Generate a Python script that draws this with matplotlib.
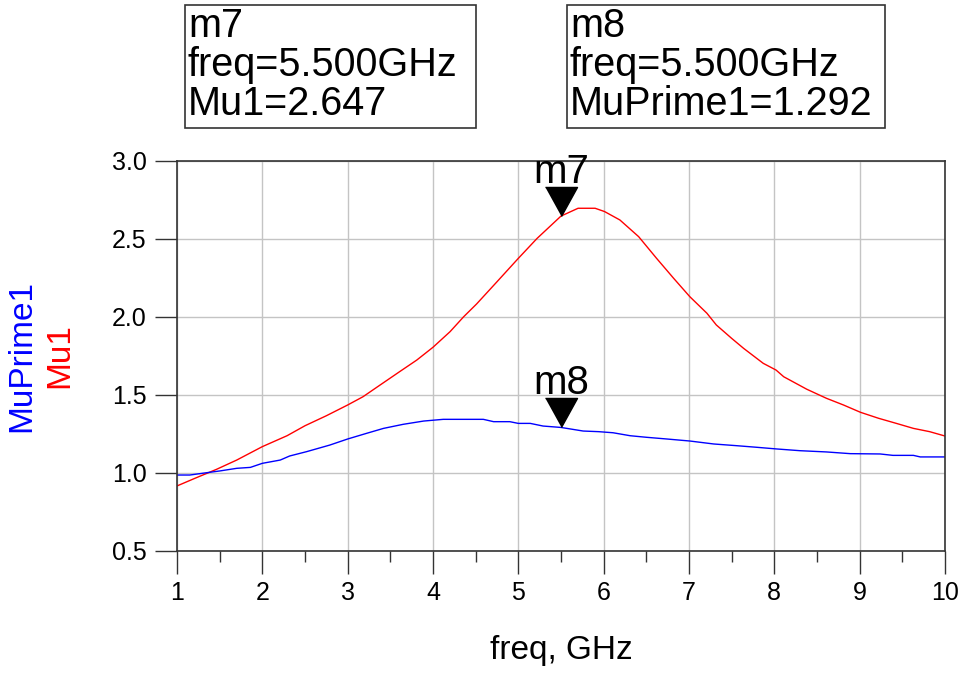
import numpy as np
import matplotlib.pyplot as plt
from matplotlib.patches import Rectangle

plt.rcParams['font.family'] = ['Liberation Sans', 'DejaVu Sans']

# Mu1 (red)
freq_mu = [1.0, 1.21, 1.465, 1.70, 2.0, 2.29, 2.5, 2.75, 3.0, 3.18, 3.38, 3.61, 3.81, 4.0,
           4.2, 4.36, 4.51, 4.75, 5.0, 5.22, 5.5, 5.7, 5.9, 6.01, 6.19, 6.41, 6.62, 6.82,
           7.01, 7.21, 7.32, 7.5, 7.64, 7.87, 8.02, 8.11, 8.38, 8.61, 8.81, 9.01, 9.22,
           9.43, 9.63, 9.82, 10.0]
mu1 = [0.917, 0.966, 1.024, 1.083, 1.169, 1.239, 1.303, 1.367, 1.436, 1.489, 1.564, 1.65,
       1.724, 1.806, 1.906, 2.002, 2.083, 2.226, 2.376, 2.504, 2.647, 2.697, 2.697, 2.676,
       2.622, 2.515, 2.376, 2.248, 2.130, 2.024, 1.949, 1.863, 1.799, 1.703, 1.660, 1.617,
       1.537, 1.479, 1.436, 1.389, 1.351, 1.318, 1.286, 1.265, 1.237]

# MuPrime1 (blue)
freq_mup = [1.0, 1.15, 1.35, 1.5, 1.7, 1.86, 2.0, 2.21, 2.32, 2.52, 2.79, 3.0, 3.22, 3.42,
            3.65, 3.89, 4.12, 4.59, 4.71, 4.9, 5.0, 5.14, 5.29, 5.5, 5.76, 5.94, 6.11, 6.31,
            6.5, 6.74, 7.01, 7.29, 7.56, 7.79, 8.03, 8.3, 8.61, 8.89, 9.24, 9.39, 9.63,
            9.71, 10.0]
muprime1 = [0.987, 0.987, 1.002, 1.013, 1.030, 1.036, 1.062, 1.083, 1.109, 1.137, 1.179,
            1.218, 1.254, 1.286, 1.312, 1.333, 1.344, 1.344, 1.329, 1.329, 1.318, 1.318,
            1.301, 1.292, 1.269, 1.265, 1.258, 1.239, 1.229, 1.218, 1.205, 1.186, 1.175,
            1.165, 1.154, 1.143, 1.135, 1.124, 1.122, 1.113, 1.113, 1.103, 1.103]

# markers
marker_names = ["m7", "m8"]
marker_freq = [5.5, 5.5]
marker_vals = [2.647, 1.292]
marker_labels = [["m7", "freq=5.500GHz", "Mu1=2.647"],
                 ["m8", "freq=5.500GHz", "MuPrime1=1.292"]]

x_ticks = [1, 2, 3, 4, 5, 6, 7, 8, 9, 10]
y_ticks = [0.5, 1.0, 1.5, 2.0, 2.5, 3.0]

W, H = 964, 675
fig = plt.figure(figsize=(W / 100, H / 100), dpi=100)
ax = fig.add_axes([177 / W, 124 / H, 768 / W, 390 / H])

ax.plot(freq_mu, mu1, color='red', lw=1)
ax.plot(freq_mup, muprime1, color='blue', lw=1)

ax.set_xlim(1, 10)
ax.set_ylim(0.5, 3.0)
ax.set_xticks(x_ticks)
ax.set_xticks(np.arange(1.5, 10, 1.0), minor=True)
ax.set_yticks(y_ticks)
ax.set_yticklabels([f"{v:.1f}" for v in y_ticks])
ax.grid(True, color='#c4c4c4', lw=1)
ax.set_axisbelow(True)

ax.tick_params(axis='x', which='major', direction='out', length=16.5, width=1,
               color='#333333', labelsize=18, pad=5)
ax.tick_params(axis='x', which='minor', direction='out', length=8, width=1, color='#333333')
ax.tick_params(axis='y', direction='out', length=16, width=1, color='#333333',
               labelsize=18, pad=6)
for s in ax.spines.values():
    s.set_color('#333333')
    s.set_linewidth(1.2)

# marker triangles with the tip on the data point
tri = [(-16, 29), (16, 29), (0, 0)]
for name, f, v in zip(marker_names, marker_freq, marker_vals):
    ax.plot([f], [v], marker=tri, markersize=41.8, color='black', ls='none', clip_on=False)
    ax.annotate(name, xy=(f, v), xytext=(0, 24), textcoords='offset points',
                ha='center', va='baseline', fontsize=29, annotation_clip=False)

ax.set_xlabel("freq, GHz", fontsize=24, labelpad=22)

fig.text(22 / W, 1 - 356 / H, "MuPrime1", color='blue', fontsize=24, rotation=90,
         ha='center', va='center')
fig.text(60 / W, 1 - 356 / H, "Mu1", color='red', fontsize=24, rotation=90,
         ha='center', va='center')

# marker readout boxes
boxes = [(185, 476), (567, 885)]
for (x0, x1), lines in zip(boxes, marker_labels):
    fig.patches.append(Rectangle((x0 / W, 1 - 128 / H), (x1 - x0) / W, 123 / H,
                                 transform=fig.transFigure, fill=False,
                                 edgecolor='#333333', lw=1.2))
    for i, t in enumerate(lines):
        fig.text((x0 + 3) / W, 1 - (37 + 39 * i) / H, t, fontsize=28.5,
                 ha='left', va='baseline')

fig.savefig("out.png", dpi=100)
